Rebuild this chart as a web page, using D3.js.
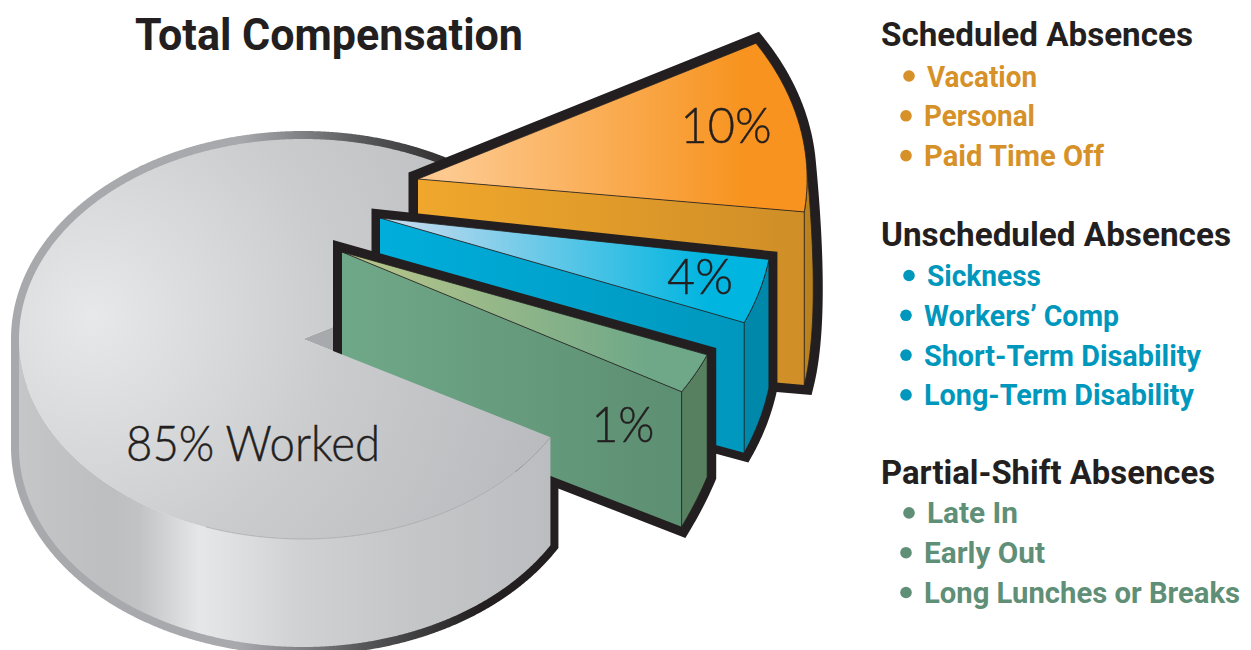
<!DOCTYPE html>
<html>
<head>
<meta charset="utf-8">
<script src="https://cdn.jsdelivr.net/npm/d3@7"></script>
<style>
    body { margin: 0; background: #fff; }
    svg { display: block; }
    .head, .item { font-family: Roboto, sans-serif; font-weight: 700; }
    .share { font-family: Lato, sans-serif; font-weight: 300; fill: #231f20; stroke: #231f20; stroke-width: 0.45; }
</style>
</head>
<body>
<script>
// Chart values
const chartTitle = "Total Compensation";
const sliceValues = [10, 4, 1, 85];
const workedLabel = "Worked";
const legendHeads = ["Scheduled Absences", "Unscheduled Absences", "Partial-Shift Absences"];
const scheduledItems = ["Vacation", "Personal", "Paid Time Off"];
const unscheduledItems = ["Sickness", "Workers’ Comp", "Short-Term Disability", "Long-Term Disability"];
const partialItems = ["Late In", "Early Out", "Long Lunches or Breaks"];

const w = 1251;
const h = 650;
const ink = "#231f20";

const svg = d3.select("body").append("svg").attr("width", w).attr("height", h);
const defs = svg.append("defs");

// The artist stretched the 1% slice, so cumulative share -> angle is piecewise
const angleScale = d3.scaleLinear()
    .domain([0, 10, 14, 15, 100])
    .range([-29.7, 7.7, 22, 30.3, 330.3]);

const cum = d3.cumsum(sliceValues);
const rad = (a) => (a * Math.PI) / 180;

// Base ellipse of the gray pie
const pie = { x: 303, y: 339, rx: 284, ry: 200, depth: 108 };
const wedgeR = [1.37, 1.385, 1.385];

// Exploded wedges: apex shift, angle nudges, wall depth at apex / start / end
const wedges = [
    { dx: 115, dy: -160, nudge: [0, -0.8], depth: [173, 173, 173], wallFrom: -4, bulge: 17, outline: 19,
      top: ["#fdc98f", "#f7931e"], front: ["#f0a72c", "#cf8e27"], side: "#b9821f", label: [726, 143, 91] },
    { dx: 77, dy: -121, nudge: [0.9, 0.2], depth: [136, 128, 130], wallFrom: null, bulge: 0, outline: 17,
      top: ["#bcd9ee", "#00b5e0"], front: ["#00aedb", "#0097bd"], side: "#0088ab", label: [700, 294, 66] },
    { dx: 39, dy: -87, nudge: [-0.2, 0], depth: [143, 122, 135], wallFrom: null, bulge: 0, outline: 18,
      top: ["#b4c48a", "#6fa888"], front: ["#6fa888", "#5d8f72"], side: "#56805f", label: [623, 442, 63] },
];

function arcPoints(o, a0, a1, drop) {
    const n = Math.max(2, Math.ceil(Math.abs(a1 - a0) * 4));
    const t = d3.scaleLinear().domain([0, n]).range([a0, a1]);
    return d3.range(n + 1).map((i) => [
        o.x + o.rx * Math.cos(rad(t(i))),
        o.y + o.ry * Math.sin(rad(t(i))) + (typeof drop === "function" ? drop(i / n) : drop),
    ]);
}

const line = d3.line();

function linGrad(id, x1, x2, stops) {
    const g = defs.append("linearGradient").attr("id", id)
        .attr("gradientUnits", "userSpaceOnUse")
        .attr("x1", x1).attr("x2", x2).attr("y1", 0).attr("y2", 0);
    const t = d3.scaleLinear().domain([x1, x2]).range([0, 1]);
    stops.forEach(([x, c]) => g.append("stop").attr("offset", t(x)).attr("stop-color", c));
    return `url(#${id})`;
}

// Gray pie
const g0 = angleScale(cum[2]) - 0.9;
const g1 = angleScale(cum[3]);
const rimFill = linGrad("rim", 12, 560, [[12, "#a7a9ac"], [240, "#a7a9ac"], [300, "#808285"], [360, "#58595b"], [480, "#231f20"], [560, "#231f20"]]);
const wallFill = linGrad("wall", 19, 550, [[19, "#c5c6c8"], [110, "#bdbec0"], [140, "#c2c3c5"], [200, "#e6e7e8"], [300, "#d0d1d3"], [400, "#c6c7c9"], [550, "#bcbdc0"]]);
const faceGrad = defs.append("radialGradient").attr("id", "face")
    .attr("gradientUnits", "userSpaceOnUse").attr("cx", 93).attr("cy", 317).attr("r", 480);
faceGrad.append("stop").attr("offset", 0).attr("stop-color", "#e7e8e9");
faceGrad.append("stop").attr("offset", 0.5).attr("stop-color", "#cbccce");
faceGrad.append("stop").attr("offset", 1).attr("stop-color", "#b9babd");

const apex = [pie.x, pie.y];
const frontTop = arcPoints(pie, g0, 180, 0);
const frontBottom = arcPoints(pie, g0, 180, pie.depth);

// floor of the cut, only its tip stays visible beside the green wedge
svg.append("path")
    .attr("d", line([apex, ...arcPoints(pie, angleScale(0), g0, 0)]) + "Z")
    .attr("fill", "#a7a9ac");

svg.append("path")
    .attr("d", line([frontTop[0], ...frontBottom, ...arcPoints(pie, 180, g1, 0)]))
    .attr("fill", "none")
    .attr("stroke", rimFill)
    .attr("stroke-width", 16)
    .attr("stroke-linejoin", "miter");

svg.append("path")
    .attr("d", line([apex, ...arcPoints(pie, g0, g1, 0)]) + "Z")
    .attr("fill", "url(#face)");

// Wedges, back to front
wedges.forEach((wd, i) => {
    const o = {
        x: pie.x + wd.dx,
        y: pie.y + wd.dy,
        rx: pie.rx * wedgeR[i],
        ry: pie.ry * wedgeR[i],
    };
    const a0 = angleScale(i === 0 ? 0 : cum[i - 1]) + wd.nudge[0];
    const a1 = angleScale(cum[i]) + wd.nudge[1];
    const [dA, d0, d1] = wd.depth;
    const tip = [o.x, o.y];
    const tipLow = [o.x, o.y + dA];
    const wallA = wd.wallFrom === null ? a0 : wd.wallFrom;
    const topArc = arcPoints(o, a0, a1, 0);
    const endTop = topArc[topArc.length - 1];
    const backTop = arcPoints(o, a0, wallA, 0);
    const wallTop = arcPoints(o, a1, wallA, 0);
    const wallStart = wallTop[wallTop.length - 1];
    const lowArc = arcPoints(o, wallA, a1, (t) => d0 + (d1 - d0) * t);
    const endLow = lowArc[lowArc.length - 1];

    // the far edge of the wall: bulged curve for the orange slice, plain arc for the others
    let outerEdge;
    if (wd.bulge) {
        const cp = [endLow[0] + wd.bulge, (wallStart[1] + endLow[1]) / 2 + 45];
        outerEdge = d3.range(41).map((k) => {
            const t = k / 40;
            return [
                (1 - t) * (1 - t) * wallStart[0] + 2 * t * (1 - t) * cp[0] + t * t * endLow[0],
                (1 - t) * (1 - t) * wallStart[1] + 2 * t * (1 - t) * cp[1] + t * t * endLow[1],
            ];
        });
    } else {
        outerEdge = lowArc;
    }

    const silhouette = line([tip, ...backTop, ...outerEdge, tipLow]) + "Z";
    const g = svg.append("g");

    g.append("path")
        .attr("d", silhouette)
        .attr("fill", ink)
        .attr("stroke", ink)
        .attr("stroke-width", wd.outline)
        .attr("stroke-linejoin", "miter")
        .attr("stroke-miterlimit", 8);

    const xs = [o.x, d3.max(topArc, (p) => p[0])];
    g.append("path")
        .attr("d", line([tip, endTop, endLow, tipLow]) + "Z")
        .attr("fill", linGrad(`front${i}`, xs[0], endTop[0], [[xs[0], wd.front[0]], [endTop[0], wd.front[1]]]));
    g.append("path")
        .attr("d", line([...wallTop, ...outerEdge]) + "Z")
        .attr("fill", wd.side)
        .attr("stroke", ink)
        .attr("stroke-width", 0.8);
    g.append("path")
        .attr("d", line([tip, ...topArc]) + "Z")
        .attr("fill", linGrad(`top${i}`, xs[0] + 30, xs[1] - 60, [[xs[0] + 30, wd.top[0]], [xs[1] - 60, wd.top[1]]]))
        .attr("stroke", ink)
        .attr("stroke-width", 0.8);
});

// Front part of the gray pie sits over the green wedge
svg.append("path")
    .attr("d", line([...frontBottom, ...frontTop.slice().reverse()]) + "Z")
    .attr("fill", wallFill);
svg.append("path")
    .attr("d", line([apex, ...frontTop]) + "Z")
    .attr("fill", "url(#face)");
svg.append("path")
    .attr("d", line(arcPoints(pie, g0, 110, 0)))
    .attr("fill", "none")
    .attr("stroke", "#939598")
    .attr("stroke-width", 0.5);

// Share labels
wedges.forEach((wd, i) => {
    svg.append("text").attr("class", "share")
        .attr("x", wd.label[0]).attr("y", wd.label[1])
        .attr("text-anchor", "middle")
        .attr("font-size", 50)
        .attr("textLength", wd.label[2])
        .attr("lengthAdjust", "spacingAndGlyphs")
        .text(`${sliceValues[i]}%`);
});
svg.append("text").attr("class", "share")
    .attr("x", 126).attr("y", 461)
    .attr("font-size", 50)
    .attr("textLength", 254)
    .attr("lengthAdjust", "spacingAndGlyphs")
    .text(`${sliceValues[3]}% ${workedLabel}`);

// Title
svg.append("text").attr("class", "head")
    .attr("x", 135).attr("y", 50)
    .attr("font-size", 44)
    .attr("fill", ink)
    .attr("textLength", 388)
    .attr("lengthAdjust", "spacingAndGlyphs")
    .text(chartTitle);

// Legend lists
const lists = [
    { head: legendHeads[0], items: scheduledItems, color: "#d69128", y: 46, gap: 40.5, headW: 312, itemW: [110, 111, 180] },
    { head: legendHeads[1], items: unscheduledItems, color: "#0097bd", y: 245.5, gap: 40.5, headW: 350, itemW: [114, 195, 277, 270] },
    { head: legendHeads[2], items: partialItems, color: "#5f8f76", y: 484, gap: 39.4, headW: 334, itemW: [91, 121, 316] },
];

lists.forEach((l) => {
    svg.append("text").attr("class", "head")
        .attr("x", 881).attr("y", l.y)
        .attr("font-size", 33)
        .attr("fill", ink)
        .attr("textLength", l.headW)
        .attr("lengthAdjust", "spacingAndGlyphs")
        .text(l.head);

    l.items.forEach((name, i) => {
        const y = l.y + l.gap + i * 39.8;
        const shift = i === 0 ? 3 : 0; // first bullet sits a little to the right
        svg.append("circle")
            .attr("cx", 906 + shift).attr("cy", y - 10.5).attr("r", 5.8)
            .attr("fill", l.color);
        svg.append("text").attr("class", "item")
            .attr("x", 924 + shift).attr("y", y)
            .attr("font-size", 29)
            .attr("fill", l.color)
            .attr("textLength", l.itemW[i])
            .attr("lengthAdjust", "spacingAndGlyphs")
            .text(name);
    });
});
</script>
</body>
</html>
